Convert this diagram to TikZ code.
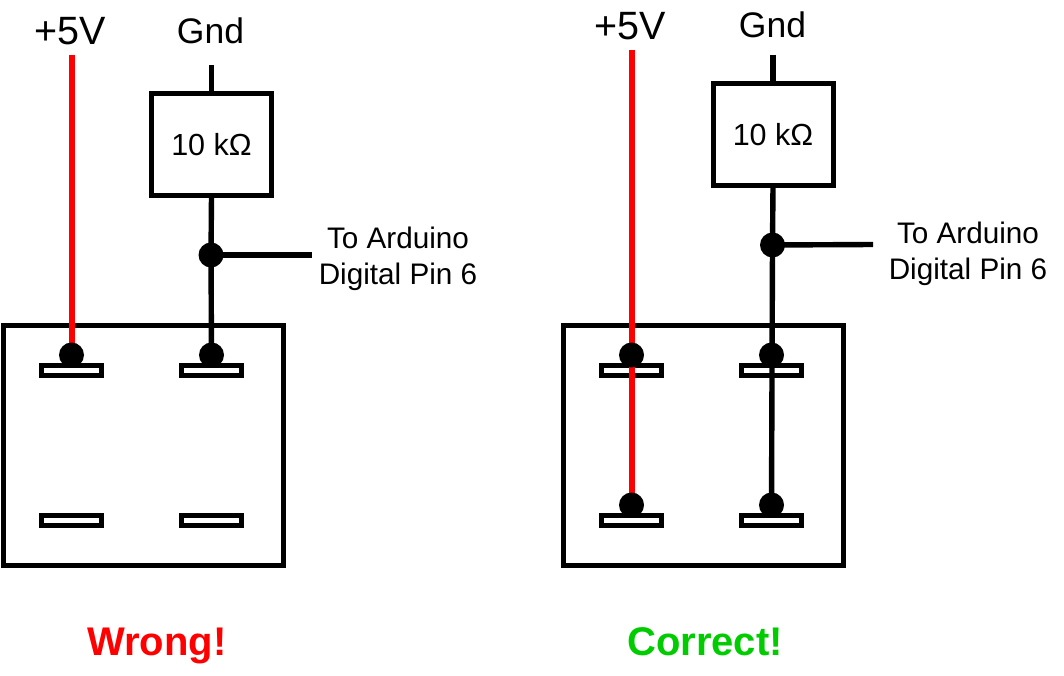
\documentclass[tikz,border=0pt]{standalone}
\usepackage{fontspec}
\setmainfont{Liberation Sans}
\pgfdeclarelayer{backlayer}
\pgfdeclarelayer{wirelayer}
\pgfsetlayers{backlayer,wirelayer,main}
\definecolor{wrongred}{RGB}{255,0,0}
\definecolor{rightgreen}{RGB}{0,204,0}
\tikzset{
  x=1pt,y=-1pt,
  switchbox/.style={draw=black,line width=5pt,fill=white,inner sep=0pt,minimum width=280pt,minimum height=240pt},
  resistor/.style={draw=black,line width=5pt,fill=white,inner sep=0pt,outer sep=0pt,minimum width=120pt,minimum height=102pt,font=\fontsize{30.5}{30.5}\selectfont},
  terminal/.style={draw=black,line width=5pt,fill=white,inner sep=0pt,minimum width=60pt,minimum height=10pt},
  dot/.style={circle,fill=black,inner sep=0pt,minimum size=25pt},
  blackwire/.style={draw=black,line width=5.4pt},
  redwire/.style={draw=wrongred,line width=6pt},
  powerlabel/.style={anchor=base,inner sep=0pt,font=\fontsize{39.5}{39.5}\selectfont},
  gndlabel/.style={anchor=base,inner sep=0pt,font=\fontsize{35.5}{35.5}\selectfont},
  pinlabel/.style={font=\fontsize{29.7}{36}\selectfont,align=center},
  verdict/.style={anchor=base,inner sep=0pt,font=\fontsize{40}{40}\selectfont\bfseries},
}
\begin{document}
\begin{tikzpicture}
\useasboundingbox (0,0) rectangle (1064,676);
% left diagram
\begin{pgfonlayer}{backlayer}
  \node[switchbox] (lbox) at (143.5,445.5) {};
  \node[terminal] (lt1) at (71.5,370.5) {};
  \node[terminal] (lt2) at (211.5,370.5) {};
  \node[terminal] (lt3) at (71.5,520.5) {};
  \node[terminal] (lt4) at (211.5,520.5) {};
\end{pgfonlayer}
\node[powerlabel] (lfive) at (70,45) {+5V};
\node[gndlabel] (lgndtext) at (210.5,44) {Gnd};
\node[resistor] (lres) at (211.5,145) {\raisebox{-1pt}{10 kΩ}};
\node[pinlabel] (lpin) at (398,259) {To Arduino\\Digital Pin 6};
\node[dot] (lj) at (211,255) {};
\node[dot] (ld1) at (71.5,355) {};
\node[dot] (ld2) at (211.5,355) {};
\coordinate (lredtop) at (71.5,55);
\coordinate (lgndtop) at (211.5,65);
\coordinate (lpinend) at (312,255);
\begin{pgfonlayer}{wirelayer}
  \draw[redwire] (lredtop) -- (ld1.center);
  \draw[blackwire] (lgndtop) -- (lres.north);
  \draw[blackwire] (lres.south) -- (lj.center) -- (ld2.center);
  \draw[blackwire] (lj.center) -- (lpinend);
\end{pgfonlayer}
\node[verdict,text=wrongred] (wrong) at (157,655) {Wrong!};
% right diagram
\begin{pgfonlayer}{backlayer}
  \node[switchbox] (rbox) at (703.5,445.5) {};
  \node[terminal] (rt1) at (631.5,370.5) {};
  \node[terminal] (rt2) at (771.5,370.5) {};
  \node[terminal] (rt3) at (631.5,520.5) {};
  \node[terminal] (rt4) at (771.5,520.5) {};
\end{pgfonlayer}
\node[powerlabel] (rfive) at (630,40) {+5V};
\node[gndlabel] (rgndtext) at (772.5,38) {Gnd};
\node[resistor] (rres) at (773,135) {\raisebox{-1pt}{10 kΩ}};
\node[pinlabel] (rpin) at (968,254) {To Arduino\\Digital Pin 6};
\node[dot] (rj) at (772.5,245) {};
\node[dot] (rd1) at (631.5,355) {};
\node[dot] (rd2) at (771.5,355) {};
\node[dot] (rd3) at (631.5,505) {};
\node[dot] (rd4) at (771.5,505) {};
\coordinate (rredtop) at (631.5,50);
\coordinate (rgndtop) at (773,55);
\coordinate (rpinend) at (873,244.5);
\begin{pgfonlayer}{wirelayer}
  \draw[redwire] (rredtop) -- (rd3.center);
  \draw[blackwire] (rgndtop) -- (rres.north);
  \draw[blackwire] (rres.south) -- (rj.center) -- (rd4.center);
  \draw[blackwire] (rj.center) -- (rpinend);
\end{pgfonlayer}
\node[verdict,text=rightgreen] (correct) at (705,655) {Correct!};
\end{tikzpicture}
\end{document}
